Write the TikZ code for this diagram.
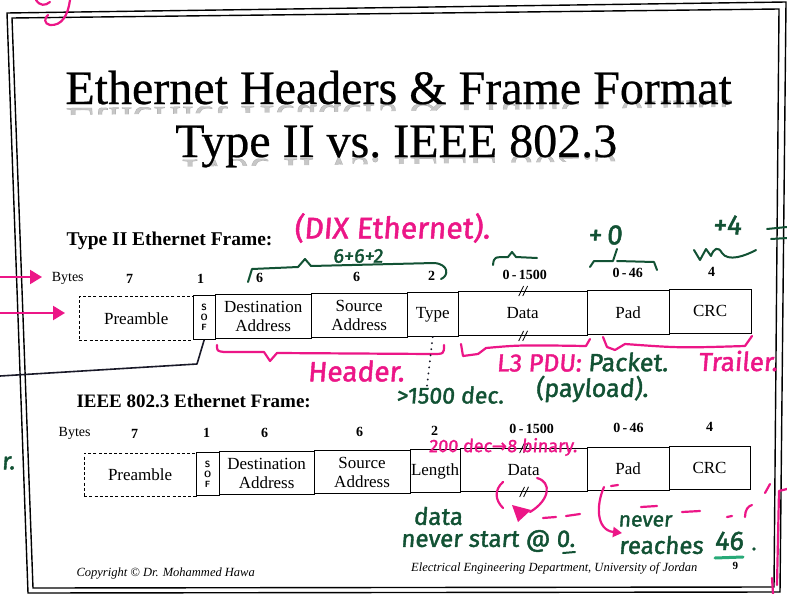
\documentclass[tikz,border=0pt]{standalone}
\usepackage{fontspec}
\setmainfont{Liberation Serif}
\newfontfamily\titlefnt{Liberation Serif}[FakeBold=0.5]
\newfontfamily\hand{Fira Sans}[FakeSlant=0.08,FakeBold=1.6]
\newfontfamily\arrowfont{DejaVu Sans}[FakeBold=1.6]
\usetikzlibrary{arrows.meta,calc}
\definecolor{inkpink}{RGB}{236,22,135}
\definecolor{inkgreen}{RGB}{18,82,52}
\definecolor{inkteal}{RGB}{40,170,120}
\definecolor{inkdark}{RGB}{25,25,40}
\begin{document}
\begin{tikzpicture}[x=1pt,y=-1pt,
  field/.style={draw, line width=0.9pt, inner sep=0pt, align=center,
    font=\fontsize{17}{19}\selectfont},
  sofbox/.style={field, font=\sffamily\bfseries\fontsize{9}{10}\selectfont},
  preamblebox/.style={field, dashed, dash pattern=on 3pt off 2.2pt, line width=1.2pt},
  num/.style={font=\fontsize{14}{15}\selectfont\bfseries, inner sep=0pt},
  bytelabel/.style={font=\fontsize{14}{15}\selectfont, inner sep=0pt},
  titlefont/.style={font=\titlefnt\fontsize{48}{48}\selectfont, anchor=base, inner sep=0pt},
  breakmark/.style={line width=0.8pt},
  pinkpen/.style={draw=inkpink, line width=2.2pt, line cap=round, line join=round},
  greenpen/.style={draw=inkgreen, line width=2pt, line cap=round, line join=round},
  pinktxt/.style={text=inkpink, font=\hand\fontsize{24}{26}\selectfont, inner sep=0pt},
  greentxt/.style={text=inkgreen, font=\hand\fontsize{24}{26}\selectfont, inner sep=0pt},
]
\useasboundingbox (0,0) rectangle (787,594);
\fill[white] (0,0) rectangle (787,594);

% double slide border
\draw[line width=1.4pt] (7,13) -- (786,2) -- (780,592) -- (28,593) -- cycle;
\draw[line width=1.4pt] (12,18) -- (779,9) -- (774,587) -- (33,588) -- cycle;

\begin{scope}[rotate around={0.7:(400,300)}]
  % title with its faint reflection
  \node[titlefont] (title1) at (401,104) {Ethernet Headers \& Frame Format};
  \node[titlefont] (title2) at (398,157) {Type II vs.\ IEEE 802.3};
  \begin{scope}
    \clip (0,104) rectangle (787,111);
    \begin{scope}[shift={(401,104)}, yscale=-1]
      \node[titlefont, transform shape, opacity=0.22] at (0,0) {Ethernet Headers \& Frame Format};
    \end{scope}
  \end{scope}
  \begin{scope}
    \clip (0,157) rectangle (787,164);
    \begin{scope}[shift={(398,157)}, yscale=-1]
      \node[titlefont, transform shape, opacity=0.22] at (0,0) {Type II vs.\ IEEE 802.3};
    \end{scope}
  \end{scope}

  % Type II frame
  \node[anchor=base west, font=\fontsize{19.5}{21}\selectfont\bfseries, inner sep=0pt] (head2) at (67,241) {Type II Ethernet Frame:};
  \node[bytelabel] (by2) at (68,274) {Bytes};
  \node[num] (n2a) at (130,276) {7};
  \node[num] (n2b) at (201,276) {1};
  \node[num] (n2c) at (260,276) {6};
  \node[num] (n2d) at (357,276) {6};
  \node[num] (n2e) at (432,276) {2};
  \node[num] (n2f) at (525,276) {0\,-\,1500};
  \node[num] (n2g) at (628,276) {0\,-\,46};
  \node[num] (n2h) at (712,276) {4};

  \node[preamblebox, minimum width=114pt, minimum height=44pt] (pre2) at (136,315) {Preamble};
  \node[sofbox, minimum width=22pt, minimum height=44pt] (sof2) at (204,315) {S\\O\\F};
  \node[field, minimum width=96pt, minimum height=44pt] (dst2) at (263,315) {Destination\\Address};
  \node[field, minimum width=96pt, minimum height=44pt] (src2) at (359,315) {Source\\Address};
  \node[field, minimum width=51pt, minimum height=44pt] (typ2) at (432.5,315) {Type};
  \node[field, minimum width=129pt, minimum height=44pt] (dat2) at (522.5,315) {Data};
  \node[field, minimum width=82pt, minimum height=44pt] (pad2) at (628,315) {Pad};
  \node[field, minimum width=82pt, minimum height=44pt] (crc2) at (710,315) {CRC};
  \draw[breakmark] ($(dat2.north)+(-4,5)$) -- ++(5,-10) ($(dat2.north)+(0,5)$) -- ++(5,-10);
  \draw[breakmark] ($(dat2.south)+(-4,5)$) -- ++(5,-10) ($(dat2.south)+(0,5)$) -- ++(5,-10);

  % IEEE 802.3 frame
  \node[anchor=base west, font=\fontsize{19}{21}\selectfont\bfseries, inner sep=0pt] (head3) at (75,404) {IEEE 802.3 Ethernet Frame:};
  \node[bytelabel] (by3) at (73,429) {Bytes};
  \node[num] (n3a) at (133,431) {7};
  \node[num] (n3b) at (205,431) {1};
  \node[num] (n3c) at (263,431) {6};
  \node[num] (n3d) at (358,431) {6};
  \node[num] (n3e) at (433,431) {2};
  \node[num] (n3f) at (530,431) {0\,-\,1500};
  \node[num] (n3g) at (627,431) {0\,-\,46};
  \node[num] (n3h) at (708,431) {4};

  \node[preamblebox, minimum width=112pt, minimum height=43pt] (pre3) at (138,471.5) {Preamble};
  \node[sofbox, minimum width=23pt, minimum height=43pt] (sof3) at (205.5,471.5) {S\\O\\F};
  \node[field, minimum width=95pt, minimum height=43pt] (dst3) at (264.5,471.5) {Destination\\Address};
  \node[field, minimum width=96pt, minimum height=43pt] (src3) at (360,471.5) {Source\\Address};
  \node[field, minimum width=50pt, minimum height=43pt] (len3) at (433,471.5) {Length};
  \node[field, minimum width=127pt, minimum height=43pt] (dat3) at (521.5,471.5) {Data};
  \node[field, minimum width=82pt, minimum height=43pt] (pad3) at (626,471.5) {Pad};
  \node[field, minimum width=81pt, minimum height=43pt] (crc3) at (707.5,471.5) {CRC};
  \draw[breakmark] ($(dat3.north)+(-4,5)$) -- ++(5,-10) ($(dat3.north)+(0,5)$) -- ++(5,-10);
  \draw[breakmark] ($(dat3.south)+(-4,5)$) -- ++(5,-10) ($(dat3.south)+(0,5)$) -- ++(5,-10);

  % footer
  \node[anchor=base west, font=\itshape\fontsize{12.5}{14}\selectfont, inner sep=0pt] (copy) at (73,573) {Copyright \textcopyright{} Dr. Mohammed Hawa};
  \node[anchor=base, font=\itshape\fontsize{12.5}{14}\selectfont, inner sep=0pt] (dept) at (551,573) {Electrical Engineering Department, University of Jordan};
  \node[anchor=base, font=\bfseries\fontsize{11}{12}\selectfont, inner sep=0pt] (page) at (732,574) {9};
\end{scope}

% ---- pen notes ----
% top-left scribble
\draw[pinkpen] (70,0) .. controls (68,15) and (62,26) .. (50,25) .. controls (44,24) and (44,18) .. (48,15);
\draw[pinkpen] (36,0) .. controls (40,6) and (45,6) .. (50,2);

\node[pinktxt, font=\hand\fontsize{30}{32}\selectfont] (dix) at (392,228) {(DIX Ethernet).};
\node[greentxt, font=\hand\fontsize{20}{22}\selectfont] (sum) at (358,256) {6+6+2};
\draw[greenpen] (248,282) -- (252,269) -- (298,267) -- (305,259) -- (311,266) -- (434,263) .. controls (449,264) and (449,276) .. (441,279);
\draw[greenpen] (493,265) .. controls (494,257) .. (508,257) -- (512,252) -- (516,257) -- (537,258);
\node[greentxt, font=\hand\fontsize{28}{30}\selectfont] (plus0) at (605,235) {+\,0};
\draw[greenpen] (590,267) -- (594,261) -- (613,261) -- (617,249) (617,261) -- (654,262) -- (657,270);
\node[greentxt, font=\hand\fontsize{28}{30}\selectfont] (plus4) at (727,225) {+4};
\draw[greenpen] (694,250) -- (700,260) -- (706,249) -- (711,256) .. controls (714,248) and (718,246) .. (722,253) .. controls (728,262) and (745,256) .. (756,250);
\draw[greenpen] (767,229) -- (787,227) (771,239) -- (787,238);

% arrows from the left margin
\draw[pinkpen, -{Triangle[length=12pt,width=14pt]}] (0,277) -- (42,277);
\draw[pinkpen, -{Triangle[length=12pt,width=14pt]}] (0,313) -- (65,313);

% line to the start-of-frame field
\draw[draw=inkdark, line width=1.6pt, line join=round] (0,376) -- (197,364) -- (sof2.south);

% header / data / trailer braces
\draw[pinkpen] (217,345) .. controls (217,351) .. (224,352) -- (264,352) -- (270,361) -- (277,353) -- (432,354) .. controls (444,354) .. (444,345);
\draw[inkdark, line width=2pt, dash pattern=on 0.1pt off 6pt, line cap=round] (typ2.south) -- (427,386);
\node[pinktxt, font=\hand\fontsize{28}{30}\selectfont] (hdr) at (356,371) {Header.};
\node[greentxt, font=\hand\fontsize{23}{25}\selectfont] (gt1500) at (450,395) {>1500 dec.};
\draw[pinkpen] (461,344) -- (463,356) -- (478,354) -- (486,348) .. controls (520,345) .. (586,346) -- (590,339);
\draw[pinkpen] (603,337) -- (607,347) -- (615,350) -- (625,344) .. controls (680,348) .. (745,346) -- (752,336);
\node[pinktxt, font=\hand\fontsize{25}{27}\selectfont] (pdu) at (539,363) {L3 PDU:};
\node[greentxt, font=\hand\fontsize{25}{27}\selectfont] (pkt) at (628,362) {Packet.};
\node[greentxt, font=\hand\fontsize{25}{27}\selectfont] (payload) at (592,389) {(payload).};
\node[pinktxt, font=\hand\fontsize{26}{28}\selectfont] (trailer) at (738,361) {Trailer.};
\node[greentxt, anchor=east] (rmark) at (15,463) {r.};

% notes on the 802.3 frame
\node[pinktxt, font=\hand\fontsize{18}{19}\selectfont] (binnote) at (503,447) {200 dec{\arrowfont→}8 binary.};
\draw[pinkpen] (503,482) .. controls (494,490) and (495,500) .. (503,508);
\draw[pinkpen] (537,478) .. controls (552,482) and (550,500) .. (530,512);
\fill[inkpink] (512,505) -- (531,510) -- (518,522) -- cycle;
\draw[pinkpen] (543,518) -- (556,517) (566,516) -- (580,514);
\draw[pinkpen, -{Triangle[length=9pt,width=10pt]}] (604,487) .. controls (596,505) and (596,530) .. (622,533);
\draw[pinkpen] (611,486) -- (618,485);
\draw[pinkpen] (641,507) -- (657,506) (682,512) -- (700,511) (727,517) -- (732,516);
\draw[pinkpen] (745,517) .. controls (745,510) and (748,506) .. (752,505);
\draw[pinkpen] (765,493) -- (770,484);
\draw[pinkpen] (787,489) -- (779,491) -- (777,585) (772,578) -- (773,594);

\node[greentxt] (data) at (438,516) {data};
\node[greentxt] (nstart) at (488,541) {never start @ 0.};
\draw[greenpen] (563,553) -- (575,552);
\node[greentxt, font=\hand\fontsize{21}{23}\selectfont] (never) at (645,521) {never};
\node[greentxt] (reach) at (661,545) {reaches};
\node[greentxt, font=\hand\fontsize{27}{29}\selectfont] (f46) at (729,541) {46};
\fill[inkgreen] (754,549) circle (1.8pt);
\draw[draw=inkteal, line width=3pt, line cap=round] (715,558) -- (743,557);
\end{tikzpicture}
\end{document}
